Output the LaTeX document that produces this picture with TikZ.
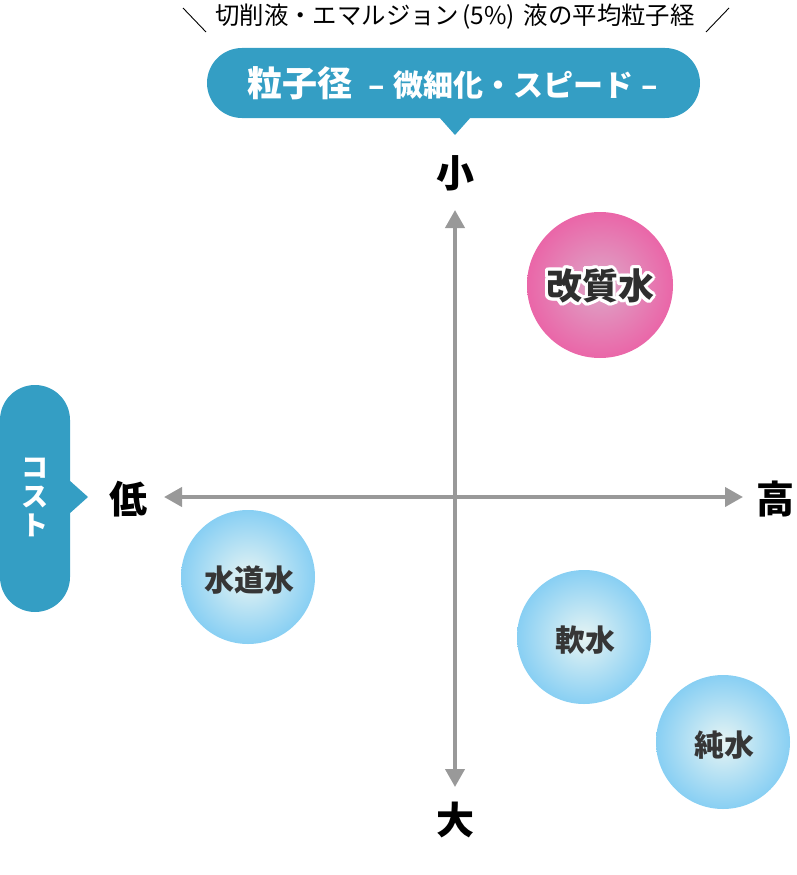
\documentclass[tikz,border=0pt]{standalone}
\usepackage{fontspec}
\setmainfont{Noto Sans CJK JP}
\usetikzlibrary{arrows.meta}
\definecolor{teal}{HTML}{349EC4}
\definecolor{axisgray}{HTML}{999999}
\definecolor{txtdark}{HTML}{363636}
\definecolor{pinkin}{HTML}{DDA8C8}
\definecolor{pinkout}{HTML}{EA66A8}
\definecolor{bluein}{HTML}{E6F4F3}
\definecolor{blueout}{HTML}{88CFF3}
\pgfdeclareradialshading{pinkball}{\pgfpoint{0bp}{0bp}}{color(0bp)=(pinkin); color(25bp)=(pinkout); color(50bp)=(pinkout)}
\pgfdeclareradialshading{blueball}{\pgfpoint{0bp}{0bp}}{color(0bp)=(bluein); color(25bp)=(blueout); color(50bp)=(blueout)}
\begin{document}
\begin{tikzpicture}[x=1pt,y=-1pt,
  axisline/.style={draw=axisgray, line width=4pt, {Triangle[length=18pt,width=19pt]}-{Triangle[length=18pt,width=19pt]}},
  pole/.style={font=\fontsize{38}{42}\selectfont\bfseries, text=black, inner sep=0pt},
  ballbox/.style={circle, minimum size=134pt, inner sep=0pt},
  balltext/.style={font=\fontsize{30}{34}\selectfont\bfseries, text=txtdark, inner sep=0pt},
  pill/.style={fill=teal, draw=none}]
\path[use as bounding box] (0,0) rectangle (796,875);

% top caption
\node[font=\fontsize{24.4}{28}\selectfont, inner sep=0pt] (cap) at (455,17) {切削液・エマルジョン\hspace{3pt}(5\%)\hspace{9pt}液の平均粒子経};
\coordinate (sl1) at (183,8); \coordinate (sl2) at (206,32);
\coordinate (sr1) at (729,8); \coordinate (sr2) at (706,32);
\draw[line width=0.9pt, black] (sl1) -- (sl2);
\draw[line width=0.9pt, black] (sr1) -- (sr2);

% top pill
\node[pill, rounded corners=35pt, minimum width=493pt, minimum height=70pt, inner sep=0pt] (toppill) at (453.5,83) {};
\coordinate (tp1) at (439,117); \coordinate (tp2) at (455,135); \coordinate (tp3) at (471,117);
\fill[teal] (tp1) -- (tp2) -- (tp3) -- cycle;
\node[text=white, inner sep=0pt] (toptext) at (453,83) {\fontsize{35}{38}\selectfont\bfseries 粒子径\hspace{16pt}\fontsize{30}{34}\selectfont –\hspace{9pt}微細化・スピード\hspace{8pt}–};

% left pill
\node[pill, rounded corners=35pt, minimum width=70pt, minimum height=227pt, inner sep=0pt] (leftpill) at (35,498.5) {};
\coordinate (lp1) at (69,480); \coordinate (lp2) at (88,497); \coordinate (lp3) at (69,514);
\fill[teal] (lp1) -- (lp2) -- (lp3) -- cycle;
\node[text=white, font=\fontsize{27}{30}\selectfont\bfseries, inner sep=0pt, align=center] (cost) at (35,497) {コ\\[-1pt]ス\\[-1pt]ト};

% axes
\coordinate (atop) at (455,210);
\coordinate (abot) at (455,787);
\coordinate (aleft) at (164,497);
\coordinate (aright) at (743,497);
\draw[axisline] (abot) -- (atop);
\draw[axisline] (aleft) -- (aright);

\node[pole] (small) at (455,173) {小};
\node[pole] (large) at (455,820) {大};
\node[pole] (low) at (128,499) {低};
\node[pole] (high) at (775,499) {高};

% balls
\node[ballbox, shading=pinkball, minimum size=146pt] (kaishitsu) at (600,285) {};
\foreach \a in {0,20,...,340}
  \node[font=\fontsize{36}{40}\selectfont\bfseries, text=white, inner sep=0pt] at ([shift={(\a:3)}]600,286) {改質水};
\node[font=\fontsize{36}{40}\selectfont\bfseries, text=txtdark!85!black, inner sep=0pt] (kaishitsutext) at (600,286) {改質水};

\node[ballbox, shading=blueball] (suido) at (248,577) {};
\node[balltext] (suidotext) at (249,580) {水道水};

\node[ballbox, shading=blueball] (nansui) at (584,637) {};
\node[balltext] (nansuitext) at (585,640) {軟水};

\node[ballbox, shading=blueball] (junsui) at (723,742) {};
\node[balltext] (junsuitext) at (724,745) {純水};
\end{tikzpicture}
\end{document}
